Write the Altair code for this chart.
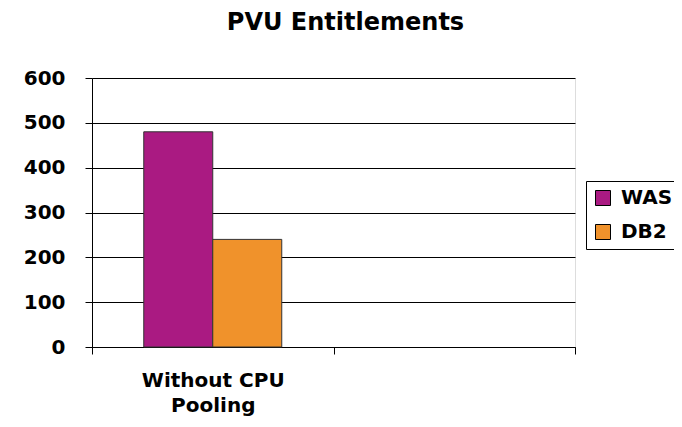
import altair as alt
import pandas as pd

categories = ["Without CPU|Pooling"]
all_categories = ["Without CPU|Pooling", " "]
series = ["WAS", "DB2"]
was_values = [480]
db2_values = [240]
colors = ["#AA1A82", "#F0922B"]

rows = []
for i, c in enumerate(categories):
    rows.append({"category": c, "series": "WAS", "value": was_values[i]})
    rows.append({"category": c, "series": "DB2", "value": db2_values[i]})
df = pd.DataFrame(rows)

FONT = "DejaVu Sans"

chart = alt.Chart(df).mark_bar(stroke="#333333", strokeWidth=1).encode(
    x=alt.X("category:N",
            scale=alt.Scale(domain=all_categories, paddingInner=0, paddingOuter=0),
            sort=all_categories,
            axis=alt.Axis(title=None, labelAngle=0, tickBand="extent",
                          labelExpr="split(datum.label, '|')",
                          labelLineHeight=25, labelPadding=16,
                          tickSize=7, tickColor="black", domainColor="black",
                          labelFont=FONT, labelFontSize=20, labelFontWeight="bold",
                          labelColor="black", grid=False)),
    xOffset=alt.XOffset("series:N", sort=series,
                        scale=alt.Scale(domain=series, paddingInner=0, paddingOuter=0.75)),
    y=alt.Y("value:Q",
            scale=alt.Scale(domain=[0, 600]),
            axis=alt.Axis(title=None, values=[0, 100, 200, 300, 400, 500, 600],
                          tickSize=7, tickColor="black", domainColor="black",
                          gridColor="black", gridOpacity=1, gridWidth=1,
                          labelPadding=20, labelFont=FONT, labelFontSize=20,
                          labelFontWeight="bold", labelColor="black")),
    color=alt.Color("series:N", sort=series,
                    scale=alt.Scale(domain=series, range=colors),
                    legend=alt.Legend(title=None, orient="none", legendX=494, legendY=103,
                                      strokeColor="black", fillColor="white", padding=7,
                                      symbolType="square", symbolSize=225,
                                      symbolStrokeColor="black", symbolStrokeWidth=1,
                                      labelFont=FONT, labelFontSize=20, labelFontWeight="bold",
                                      labelColor="black", labelOffset=8, rowPadding=14)),
).properties(
    width=483,
    height=269,
    title=alt.TitleParams("PVU Entitlements", font=FONT, fontSize=24, fontWeight="bold",
                          color="black", anchor="middle", dx=12, offset=33),
    autosize=alt.AutoSizeParams(type="none"),
    padding={"left": 84, "top": 70, "right": 99, "bottom": 72},
).configure_view(
    stroke="black", strokeWidth=1
).configure(background="white")

chart.save("out.html", embed_options={"renderer": "svg", "actions": False})
